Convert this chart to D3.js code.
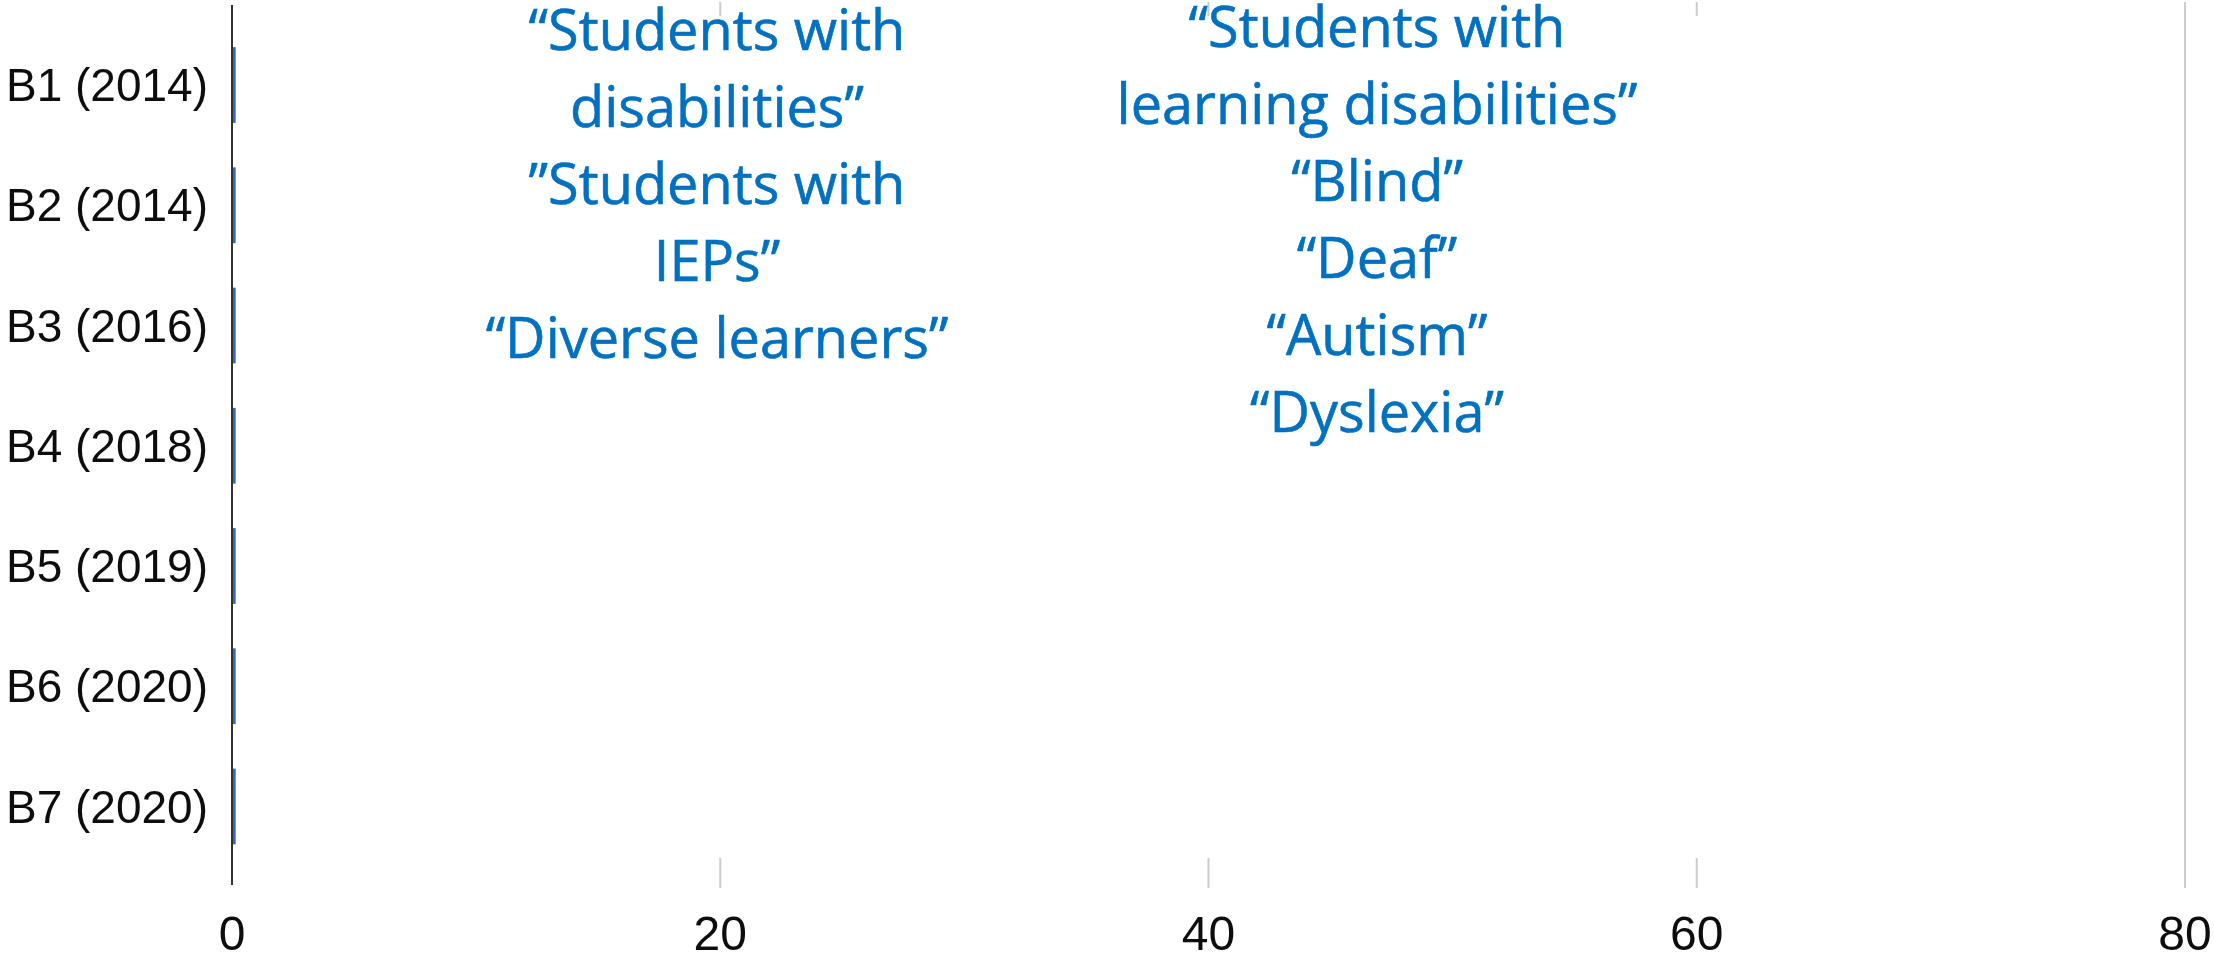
<!DOCTYPE html>
<html>
<head>
<meta charset="utf-8">
<script src="https://cdn.jsdelivr.net/npm/d3@7"></script>
<style>
  html, body { margin: 0; padding: 0; background: #ffffff; }
  svg { display: block; }
</style>
</head>
<body>
<svg id="chart" width="2214" height="954"></svg>
<script>
// Studies and publication years
const categories = ["B1 (2014)", "B2 (2014)", "B3 (2016)", "B4 (2018)", "B5 (2019)", "B6 (2020)", "B7 (2020)"];
// Bar values per study
const values = [0.15, 0.15, 0.15, 0.15, 0.15, 0.15, 0.15];
// Axis ticks
const xTicks = [0, 20, 40, 60, 80];
// Terms used in the studies
const broadTerms = ["“Students with", "disabilities”", "”Students with", "IEPs”", "“Diverse learners”"];
const specificTerms = ["“Students with", "learning disabilities”", "“Blind”", "“Deaf”", "“Autism”", "“Dyslexia”"];

const svg = d3.select("#chart");

const plot = { left: 232, right: 2185, top: 2, bottom: 888, axisTop: 5, axisBottom: 885 };

const x = d3.scaleLinear().domain([0, 80]).range([plot.left, plot.right]);
const y = d3.scaleBand()
  .domain(categories)
  .range([24.9, 866.6])
  .paddingInner(0.37)
  .paddingOuter(0.185);

const defs = svg.append("defs");
defs.append("filter").attr("id", "soft")
  .append("feGaussianBlur").attr("stdDeviation", 0.55);

const chart = svg.append("g").attr("filter", "url(#soft)");

// Vertical gridlines (extend below the plot as tick marks)
chart.append("g")
  .selectAll("line")
  .data(xTicks.filter(d => d !== 0))
  .join("line")
  .attr("x1", d => x(d)).attr("x2", d => x(d))
  .attr("y1", plot.top).attr("y2", plot.bottom)
  .attr("stroke", "#cccccc")
  .attr("stroke-width", 2);

// Bars
chart.append("g")
  .selectAll("rect")
  .data(categories.map((c, i) => ({ c, v: values[i] })))
  .join("rect")
  .attr("x", x(0))
  .attr("y", d => y(d.c))
  .attr("width", d => x(d.v) - x(0))
  .attr("height", y.bandwidth())
  .attr("fill", "#3366cc");

// Baseline at zero
chart.append("line")
  .attr("x1", x(0)).attr("x2", x(0))
  .attr("y1", plot.axisTop).attr("y2", plot.axisBottom)
  .attr("stroke", "#333333")
  .attr("stroke-width", 2);

// Category labels
chart.append("g")
  .selectAll("text")
  .data(categories)
  .join("text")
  .attr("x", x(0) - 24)
  .attr("y", d => y(d) + y.bandwidth() / 2)
  .attr("dy", "0.35em")
  .attr("text-anchor", "end")
  .attr("font-family", "Liberation Sans, Arial, sans-serif")
  .attr("font-size", 46)
  .attr("fill", "#111111")
  .text(d => d);

// Value axis labels
chart.append("g")
  .selectAll("text")
  .data(xTicks)
  .join("text")
  .attr("x", d => x(d))
  .attr("y", 950)
  .attr("text-anchor", "middle")
  .attr("font-family", "Liberation Sans, Arial, sans-serif")
  .attr("font-size", 48)
  .attr("fill", "#111111")
  .text(d => d);

// Text panel laid over the plot area
svg.append("rect")
  .attr("x", 240).attr("y", 16)
  .attr("width", 2150 - 240).attr("height", 858 - 16)
  .attr("fill", "#ffffff");

const termFont = "'Open Sans', Lato, sans-serif";
const termColor = "#0070c0";

// Size the term text so the widest line spans the target width
const probe = svg.append("text")
  .attr("font-family", termFont).attr("font-size", 100)
  .text("learning disabilities”");
const probeW = probe.node().getComputedTextLength();
probe.remove();
const termSize = 100 * 521 / probeW;
const lineStep = 77;

function termBlock(lines, cx, firstBaseline) {
  svg.append("g")
    .selectAll("text")
    .data(lines)
    .join("text")
    .attr("x", cx)
    .attr("y", (d, i) => firstBaseline + i * lineStep)
    .attr("text-anchor", "middle")
    .attr("font-family", termFont)
    .attr("font-size", termSize)
    .attr("fill", termColor)
    .attr("stroke", termColor)
    .attr("stroke-width", 0.6)
    .text(d => d);
}

termBlock(broadTerms, 717, 50);
termBlock(specificTerms, 1377, 47);
</script>
</body>
</html>
